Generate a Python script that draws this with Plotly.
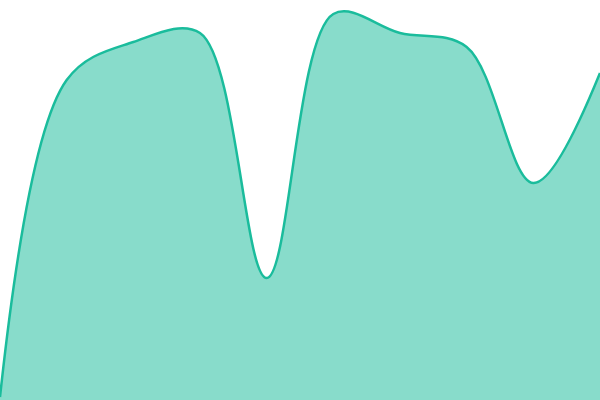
import plotly.graph_objects as go

x_vals = [0, 1, 2, 3, 4, 5, 6, 7, 8, 9]
y_vals = [3, 320, 358, 367, 122, 386, 367, 353, 217, 327]

fig = go.Figure()
fig.add_trace(go.Scatter(
    x=x_vals, y=y_vals, mode="lines",
    line=dict(color="#1ABC9C", width=2.5, shape="spline", smoothing=1),
    fill="tozeroy", fillcolor="rgba(26,188,156,0.52)",
    hoverinfo="skip",
))
fig.update_layout(
    width=600, height=400,
    margin=dict(l=0, r=0, t=0, b=0),
    paper_bgcolor="white", plot_bgcolor="white",
    showlegend=False,
    xaxis=dict(visible=False, range=[0, 9], fixedrange=True),
    yaxis=dict(visible=False, range=[0, 400], fixedrange=True),
)
fig.write_html(
    "out.html",
    config={"displayModeBar": False},
    post_script="document.body.style.margin='0';document.body.style.overflow='hidden';",
)
